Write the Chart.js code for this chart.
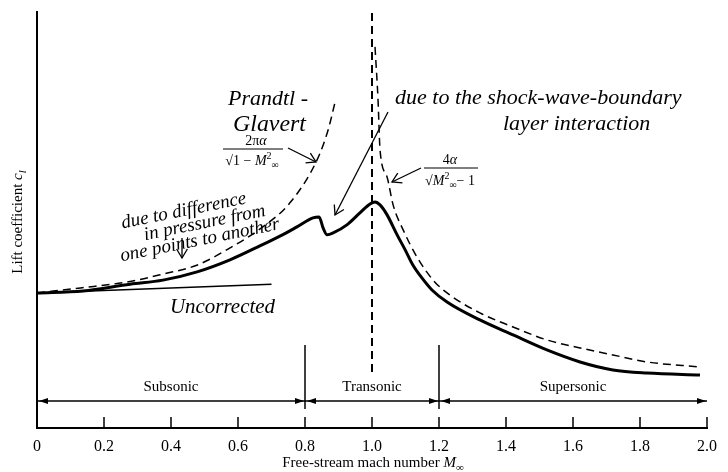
<!DOCTYPE html>
<html lang="en">
<head>
<meta charset="UTF-8">
<title>Lift coefficient vs free-stream Mach number</title>
<script src="https://cdn.jsdelivr.net/npm/chart.js@4"></script>
<style>
  html, body { margin: 0; padding: 0; background: #fff; }
</style>
</head>
<body>
<canvas id="chart" width="728" height="472"></canvas>
<script>
// values: Mach number vs lift coefficient (incompressible value = 1)
const machActual = [0, 0.137, 0.278, 0.376, 0.478, 0.576, 0.675, 0.725, 0.776, 0.824, 0.842, 0.854, 0.866, 0.884, 0.925, 0.964, 0.994, 1.009, 1.024, 1.045, 1.075, 1.099, 1.122, 1.149, 1.179, 1.224, 1.322, 1.421, 1.522, 1.621, 1.719, 1.821, 1.979];
const clActual = [1.000, 1.015, 1.065, 1.095, 1.156, 1.245, 1.360, 1.420, 1.489, 1.556, 1.563, 1.481, 1.430, 1.444, 1.504, 1.593, 1.659, 1.674, 1.652, 1.578, 1.430, 1.319, 1.207, 1.111, 1.022, 0.933, 0.800, 0.689, 0.578, 0.489, 0.430, 0.407, 0.393];

const machPG = [0, 0.13, 0.278, 0.378, 0.477, 0.576, 0.674, 0.755, 0.836, 0.869, 0.890];
const clPG = [1.000, 1.037, 1.085, 1.141, 1.205, 1.333, 1.489, 1.667, 1.985, 2.207, 2.415];

const machSuper = [1.009, 1.018, 1.024, 1.045, 1.063, 1.093, 1.134, 1.182, 1.224, 1.322, 1.421, 1.522, 1.621, 1.719, 1.821, 1.979];
const clSuper = [2.822, 2.430, 2.059, 1.859, 1.652, 1.467, 1.267, 1.096, 1.000, 0.852, 0.748, 0.652, 0.593, 0.541, 0.489, 0.452];

const machUncorrected = [0, 0.70];
const clUncorrected = [1.0, 1.065];

const machSonic = [1.0, 1.0];
const clSonic = [0.415, 3.08];

const machTicks = [0, 0.2, 0.4, 0.6, 0.8, 1.0, 1.2, 1.4, 1.6, 1.8, 2.0];
const regionNames = ['Subsonic', 'Transonic', 'Supersonic'];
const regionBounds = [0, 0.8, 1.2, 2.0];

const toPoints = (xs, ys) => xs.map((v, i) => ({ x: v, y: ys[i] }));

const SERIF = "'Liberation Serif', 'DejaVu Serif', serif";
const HAND = "italic 19px " + SERIF;

function line(ctx, x1, y1, x2, y2) {
  ctx.beginPath(); ctx.moveTo(x1, y1); ctx.lineTo(x2, y2); ctx.stroke();
}
function head(ctx, x, y, ang, len, w) {
  ctx.save();
  ctx.translate(x, y); ctx.rotate(ang);
  ctx.beginPath(); ctx.moveTo(0, 0); ctx.lineTo(-len, -w); ctx.lineTo(-len, w); ctx.closePath(); ctx.fill();
  ctx.restore();
}
function openHead(ctx, x, y, ang, len) {
  ctx.save();
  ctx.translate(x, y); ctx.rotate(ang);
  ctx.beginPath(); ctx.moveTo(-len, -len * 0.6); ctx.lineTo(0, 0); ctx.lineTo(-len, len * 0.6); ctx.stroke();
  ctx.restore();
}
function pointer(ctx, x1, y1, x2, y2) {
  line(ctx, x1, y1, x2, y2);
  openHead(ctx, x2, y2, Math.atan2(y2 - y1, x2 - x1), 9);
}
// text runs: [text, font, dy]
function runs(ctx, parts, x, y, align) {
  let total = 0;
  parts.forEach(p => { ctx.font = p[1]; total += ctx.measureText(p[0]).width; });
  let cx = align === 'left' ? x : x - total / 2;
  ctx.textAlign = 'left';
  parts.forEach(p => {
    ctx.font = p[1];
    ctx.fillText(p[0], cx, y + (p[2] || 0));
    cx += ctx.measureText(p[0]).width;
  });
}
function fit(ctx, text, x1, x2, y, font) {
  ctx.font = font; ctx.textAlign = 'left';
  ctx.fillText(text, x1, y, x2 - x1);
}

const decor = {
  id: 'decor',
  afterDraw(chart) {
    const { ctx, chartArea: a, scales: { x } } = chart;
    ctx.save();
    ctx.strokeStyle = '#000'; ctx.fillStyle = '#000';
    ctx.textBaseline = 'alphabetic';

    // inner tick marks
    ctx.lineWidth = 1.5;
    machTicks.forEach(m => {
      if (m === 0) return;
      const px = x.getPixelForValue(m);
      line(ctx, px, a.bottom, px, a.bottom - 11);
    });

    // flow regimes
    const ay = a.bottom - 27;
    ctx.lineWidth = 1.5;
    line(ctx, x.getPixelForValue(0) + 1, ay, x.getPixelForValue(2.0), ay);
    regionBounds.forEach((m, i) => {
      const px = x.getPixelForValue(m);
      if (i > 0) head(ctx, px - 1, ay, 0, 9, 3);
      if (i < regionBounds.length - 1) head(ctx, px + 2, ay, Math.PI, 9, 3);
      if (i > 0 && i < regionBounds.length - 1) line(ctx, px, a.bottom - 83, px, a.bottom - 19);
    });
    ctx.font = '15px ' + SERIF; ctx.textAlign = 'center';
    regionNames.forEach((name, i) => {
      const mid = (regionBounds[i] + regionBounds[i + 1]) / 2;
      ctx.fillText(name, x.getPixelForValue(mid), ay - 10);
    });

    // axis titles
    const R = '15px ' + SERIF, I = 'italic 15px ' + SERIF, IS = 'italic 11px ' + SERIF;
    runs(ctx, [['Free-stream mach number ', R], ['M', I], ['\u221E', '11px ' + SERIF, 4]], 373, 467);
    ctx.save();
    ctx.translate(22, 222); ctx.rotate(-Math.PI / 2);
    runs(ctx, [['Lift coefficient ', R], ['c', I], ['l', IS, 4]], 0, 0);
    ctx.restore();

    // formula labels
    const F = '14px ' + SERIF, FI = 'italic 14px ' + SERIF, FS = '10px ' + SERIF;
    runs(ctx, [['2\u03C0', F], ['\u03B1', FI]], 256, 145);
    ctx.lineWidth = 1.2; line(ctx, 223, 149, 283, 149);
    runs(ctx, [['\u221A1 \u2212 ', F], ['M', FI], ['2', FS, -6], ['\u221E', FS, 3]], 252, 165);
    runs(ctx, [['4', F], ['\u03B1', FI]], 450, 164);
    line(ctx, 424, 168, 478, 168);
    runs(ctx, [['\u221A', F], ['M', FI], ['2', FS, -6], ['\u221E', FS, 3], ['\u2212 1', F]], 450, 185);

    // handwritten notes
    ctx.lineWidth = 1.3;
    fit(ctx, 'Prandtl -', 228, 308, 105, 'italic 22px ' + SERIF);
    fit(ctx, 'Glavert', 233, 306, 131, 'italic 24px ' + SERIF);
    pointer(ctx, 288, 148, 316, 162);

    fit(ctx, 'due to the shock-wave-boundary', 395, 723, 104, 'italic 22px ' + SERIF);
    fit(ctx, 'layer interaction', 503, 690, 130, 'italic 22px ' + SERIF);
    pointer(ctx, 388, 112, 335, 215);

    pointer(ctx, 421, 168, 392, 182);

    ctx.save();
    ctx.translate(195, 226); ctx.rotate(-0.2);
    ctx.font = HAND; ctx.textAlign = 'center';
    ctx.fillText('due to difference', -8, -12, 150);
    ctx.fillText('in pressure from', 10, 4, 150);
    ctx.fillText('one points to another', 2, 20, 172);
    ctx.restore();
    pointer(ctx, 182, 238, 182, 258);

    fit(ctx, 'Uncorrected', 170, 275, 313, 'italic 21px ' + SERIF);

    ctx.restore();
  }
};

Chart.defaults.font.family = SERIF;
Chart.defaults.color = '#000';

new Chart(document.getElementById('chart'), {
  type: 'line',
  data: {
    datasets: [
      { label: 'Actual', data: toPoints(machActual, clActual), borderColor: '#000', borderWidth: 3, cubicInterpolationMode: 'monotone' },
      { label: 'Prandtl-Glauert', data: toPoints(machPG, clPG), borderColor: '#000', borderWidth: 1.5, borderDash: [8, 5], cubicInterpolationMode: 'monotone' },
      { label: 'Supersonic linear', data: toPoints(machSuper, clSuper), borderColor: '#000', borderWidth: 1.5, borderDash: [8, 5], cubicInterpolationMode: 'monotone' },
      { label: 'Uncorrected', data: toPoints(machUncorrected, clUncorrected), borderColor: '#000', borderWidth: 1.5 },
      { label: 'M = 1', data: toPoints(machSonic, clSonic), borderColor: '#000', borderWidth: 2, borderDash: [8, 5] }
    ]
  },
  options: {
    responsive: false,
    animation: false,
    events: [],
    layout: { padding: { top: 12, right: 21, left: 0, bottom: 0 } },
    elements: { point: { radius: 0 } },
    plugins: { legend: { display: false }, tooltip: { enabled: false } },
    scales: {
      x: {
        type: 'linear', min: 0, max: 2,
        afterBuildTicks: s => { s.ticks = machTicks.map(v => ({ value: v })); },
        afterFit: s => { s.height = 44; },
        grid: { display: false, drawTicks: false },
        border: { display: true, color: '#000', width: 2 },
        ticks: {
          padding: 9, font: { size: 16 }, color: '#000', maxRotation: 0,
          callback: v => v === 0 ? '0' : Number(v).toFixed(1)
        }
      },
      y: {
        min: 0, max: 3.08,
        afterFit: s => { s.width = 37; },
        grid: { display: false, drawTicks: false },
        border: { display: true, color: '#000', width: 2 },
        ticks: { display: false }
      }
    }
  },
  plugins: [decor]
});
</script>
</body>
</html>
